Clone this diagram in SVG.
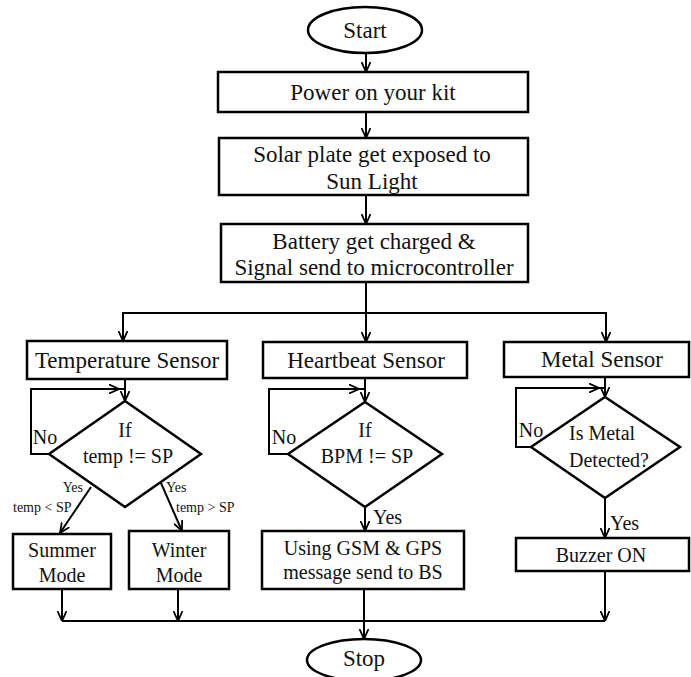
<svg xmlns="http://www.w3.org/2000/svg" width="691" height="677" viewBox="0 0 691 677">
<style>
.box{fill:#fff;stroke:#000;stroke-width:2.5}
.ln{fill:none;stroke:#000;stroke-width:2}
.t{font-family:"Liberation Serif","Times New Roman",serif;fill:#111;text-anchor:middle}
.m{font-size:23px}
.s{font-size:20px}
.xs{font-size:14px}
</style>
<defs>
<marker id="ar" viewBox="0 0 10 10" refX="10" refY="5" markerWidth="10" markerHeight="10" markerUnits="userSpaceOnUse" orient="auto">
<path d="M0,0.5 L10,5 L0,9.5" fill="none" stroke="#000" stroke-width="1.8"/>
</marker>
</defs>
<rect width="691" height="677" fill="#fff"/>
<g id="connectors">
<path class="ln" d="M366,53 V72" marker-end="url(#ar)"/>
<path class="ln" d="M366,112 V138" marker-end="url(#ar)"/>
<path class="ln" d="M366,195 V224" marker-end="url(#ar)"/>
<path class="ln" d="M366,282 V342" marker-end="url(#ar)"/>
<path class="ln" d="M366,313 H123 V341" marker-end="url(#ar)"/>
<path class="ln" d="M366,313 H606 V342" marker-end="url(#ar)"/>
<path class="ln" d="M125,379 V401" marker-end="url(#ar)"/>
<path class="ln" d="M49,454 H31 V389 H119" marker-end="url(#ar)"/>
<path class="ln" d="M118,389 H125"/>
<path class="ln" d="M365,378 V402" marker-end="url(#ar)"/>
<path class="ln" d="M288,454 H269 V389 H359" marker-end="url(#ar)"/>
<path class="ln" d="M358,389 H365"/>
<path class="ln" d="M605,377 V397" marker-end="url(#ar)"/>
<path class="ln" d="M531,447 H516 V388 H599" marker-end="url(#ar)"/>
<path class="ln" d="M598,388 H605"/>
<path class="ln" d="M91,487 L60,533" marker-end="url(#ar)"/>
<path class="ln" d="M161,483 L182,531" marker-end="url(#ar)"/>
<path class="ln" d="M365,507 V531" marker-end="url(#ar)"/>
<path class="ln" d="M605,498 V538" marker-end="url(#ar)"/>
<path class="ln" d="M62,589 V621" marker-end="url(#ar)"/>
<path class="ln" d="M178,589 V621" marker-end="url(#ar)"/>
<path class="ln" d="M605,571 V621" marker-end="url(#ar)"/>
<path class="ln" d="M62,621 H605"/>
<path class="ln" d="M364,589 V639" marker-end="url(#ar)"/>
</g>
<g id="start">
<ellipse class="box" cx="365" cy="30" rx="57" ry="23"/>
<text class="t m" x="365" y="38">Start</text>
</g>
<g id="power">
<rect class="box" x="218" y="72" width="310" height="40"/>
<text class="t m" x="373" y="100">Power on your kit</text>
</g>
<g id="solar">
<rect class="box" x="219" y="138" width="309" height="57"/>
<text class="t m" x="372" y="162">Solar plate get exposed to</text>
<text class="t m" x="372" y="189">Sun Light</text>
</g>
<g id="battery">
<rect class="box" x="221" y="224" width="307" height="58"/>
<text class="t m" x="374" y="249">Battery get charged &amp;</text>
<text class="t m" x="374" y="275">Signal send to microcontroller</text>
</g>
<g id="temp-sensor">
<rect class="box" x="27" y="341" width="200" height="38"/>
<text class="t m" x="127" y="368">Temperature Sensor</text>
</g>
<g id="heart-sensor">
<rect class="box" x="263" y="342" width="204" height="36"/>
<text class="t m" x="366" y="368">Heartbeat Sensor</text>
</g>
<g id="metal-sensor">
<rect class="box" x="504" y="342" width="185" height="35"/>
<text class="t m" x="602" y="367">Metal Sensor</text>
</g>
<g id="temp-decision">
<polygon class="box" points="125,401 201,454 125,507 49,454"/>
<text class="t s" x="125" y="437">If</text>
<text class="t s" x="128" y="463">temp  != SP</text>
<text class="t s" x="45" y="444">No</text>
</g>
<g id="heart-decision">
<polygon class="box" points="365,402 442,454 365,507 288,454"/>
<text class="t s" x="365" y="437">If</text>
<text class="t s" x="367" y="463">BPM != SP</text>
<text class="t s" x="284" y="444">No</text>
</g>
<g id="metal-decision">
<polygon class="box" points="605,397 680,447 605,498 531,447"/>
<text class="t s" x="569" y="440" style="text-anchor:start">Is Metal</text>
<text class="t s" x="569" y="467" style="text-anchor:start">Detected?</text>
<text class="t s" x="531" y="437">No</text>
</g>
<g id="temp-labels">
<text class="t xs" x="83" y="492" style="text-anchor:end">Yes</text>
<text class="t xs" x="13" y="512" style="text-anchor:start">temp &lt; SP</text>
<text class="t xs" x="166" y="492" style="text-anchor:start">Yes</text>
<text class="t xs" x="176" y="512" style="text-anchor:start">temp &gt; SP</text>
</g>
<g id="summer">
<rect class="box" x="13" y="534" width="98" height="55"/>
<text class="t s" x="62" y="557">Summer</text>
<text class="t s" x="62" y="582">Mode</text>
</g>
<g id="winter">
<rect class="box" x="129" y="531" width="100" height="58"/>
<text class="t s" x="179" y="557">Winter</text>
<text class="t s" x="179" y="582">Mode</text>
</g>
<g id="gsm">
<rect class="box" x="262" y="531" width="202" height="58"/>
<text class="t s" x="363" y="555">Using GSM &amp; GPS</text>
<text class="t s" x="363" y="579">message send to BS</text>
<text class="t s" x="373" y="524" style="text-anchor:start">Yes</text>
</g>
<g id="buzzer">
<rect class="box" x="516" y="538" width="173" height="33"/>
<text class="t s" x="601" y="562">Buzzer ON</text>
<text class="t s" x="610" y="530" style="text-anchor:start">Yes</text>
</g>
<g id="stop">
<ellipse class="box" cx="364" cy="660" rx="57" ry="21"/>
<text class="t m" x="364" y="666">Stop</text>
</g>
</svg>
